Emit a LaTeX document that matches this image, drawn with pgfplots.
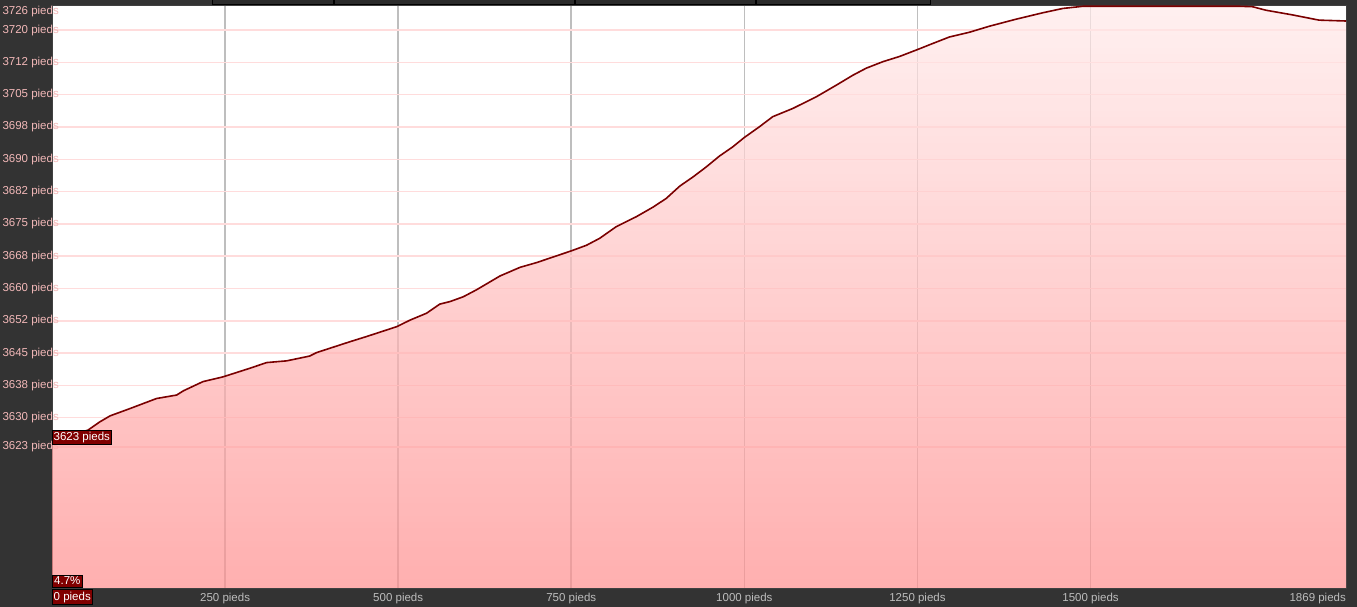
\documentclass[border=0pt]{standalone}
\usepackage{pgfplots}
\pgfplotsset{compat=1.18}
\usepackage{pgfplotstable}
\usepackage{fontspec}
\setmainfont{Liberation Sans}

\definecolor{panel}{HTML}{333333}
\definecolor{curve}{HTML}{7A0000}
\definecolor{tagred}{HTML}{800000}
\definecolor{vgrid}{HTML}{BEBEBE}
\definecolor{hgrid}{HTML}{FFDCDC}
\definecolor{ylab}{HTML}{F2B8B8}
\definecolor{xlab}{HTML}{BDBDBD}
\definecolor{filltop}{RGB}{255,234,234}
\definecolor{fillbot}{RGB}{255,142,142}

% elevation profile: distance (pieds), elevation (pieds)
\pgfplotstableread{
dist elev
0 3625.0
20 3626.0
52 3627.6
69 3629.5
84 3630.9
113 3632.6
151 3634.9
180 3635.7
190 3636.7
218 3638.8
247 3639.9
286 3641.9
310 3643.2
339 3643.6
372 3644.7
382 3645.5
430 3648.0
454 3649.2
498 3651.5
517 3653.0
541 3654.6
560 3656.7
575 3657.3
594 3658.4
613 3660.0
647 3663.2
676 3665.2
700 3666.3
724 3667.6
750 3669.0
772 3670.3
791 3671.9
815 3674.6
844 3676.9
868 3679.1
887 3681.1
907 3684.0
926 3686.1
945 3688.4
964 3690.9
983 3693.0
1000 3695.2
1022 3697.7
1041 3700.0
1070 3701.9
1104 3704.6
1133 3707.3
1157 3709.6
1176 3711.2
1200 3712.7
1224 3713.9
1250 3715.5
1272 3716.9
1296 3718.4
1325 3719.5
1354 3720.9
1392 3722.5
1431 3724.0
1460 3725.0
1489 3725.5
1715 3725.5
1734 3725.4
1753 3724.6
1792 3723.5
1830 3722.3
1869 3722.1
}\profile

\newcommand{\lab}{\fontsize{11.5bp}{13bp}\selectfont}

\begin{document}
\begin{tikzpicture}[x=1bp,y=1bp]
\fill[panel] (0,0) rectangle (1357,607);
\useasboundingbox (0,0) rectangle (1357,607);
% cut-off tabs at the top
\foreach \a/\b in {212/333,334/574,575/755,756/930}
  \draw[black, fill=panel!85!black, line width=0.8bp] (\a,603) rectangle (\b,610);

\begin{axis}[
  at={(52bp,19bp)}, anchor=south west,
  scale only axis, width=1294bp, height=583bp,
  xmin=0, xmax=1869, ymin=3591.13, ymax=3725.8,
  clip=false,
  axis background/.style={fill=white},
  axis line style={draw=black!75, line width=0.8bp},
  major tick length=0pt,
  xtick={250,500,750,1000,1250,1500},
  xticklabels={250 pieds,500 pieds,750 pieds,1000 pieds,1250 pieds,1500 pieds},
  ytick={3623.7,3630.48,3637.94,3645.4,3652.86,3660.32,3667.78,3675.24,3682.7,3690.16,3697.62,3705.08,3712.54,3720},
  yticklabels={3623 pieds,3630 pieds,3638 pieds,3645 pieds,3652 pieds,3660 pieds,3668 pieds,3675 pieds,3682 pieds,3690 pieds,3698 pieds,3705 pieds,3712 pieds,3720 pieds},
  xmajorgrids, ymajorgrids,
  x grid style={vgrid, line width=1.6bp},
  y grid style={hgrid, line width=1.5bp},
  xticklabel style={font=\lab, text=xlab, anchor=north, inner sep=0pt, yshift=-5bp},
  yticklabel style={font=\lab, text=ylab, anchor=east, inner sep=0pt, xshift=7bp},
]
\addplot[draw=none, top color=filltop, bottom color=fillbot, fill opacity=0.7]
  table[x=dist, y=elev] {\profile} |- (axis cs:0,3591.13) -- cycle;
\addplot[curve, line width=1.6bp] table[x=dist, y=elev] {\profile};

\node[font=\lab, text=ylab, anchor=east, inner sep=0pt, xshift=7bp] at (axis cs:0,3724.2) {3726 pieds};
\node[font=\lab, text=xlab, anchor=north east, inner sep=0pt, yshift=-5bp] at (rel axis cs:1,0) {1869 pieds};
\node[font=\lab, fill=tagred, draw=black, text=white, inner xsep=1.5bp, inner ysep=2bp, anchor=south west] at (axis cs:0,3624.2) {3623 pieds};
\node[font=\lab, fill=tagred, draw=black, text=white, inner xsep=2bp, inner ysep=2bp, anchor=south west, yshift=1bp] at (rel axis cs:0,0) {4.7\%};
\node[font=\lab, fill=tagred, draw=black, text=white, inner xsep=1.5bp, inner ysep=2bp, anchor=north west, yshift=-1.5bp] at (rel axis cs:0,0) {0 pieds};
\end{axis}
\end{tikzpicture}
\end{document}
